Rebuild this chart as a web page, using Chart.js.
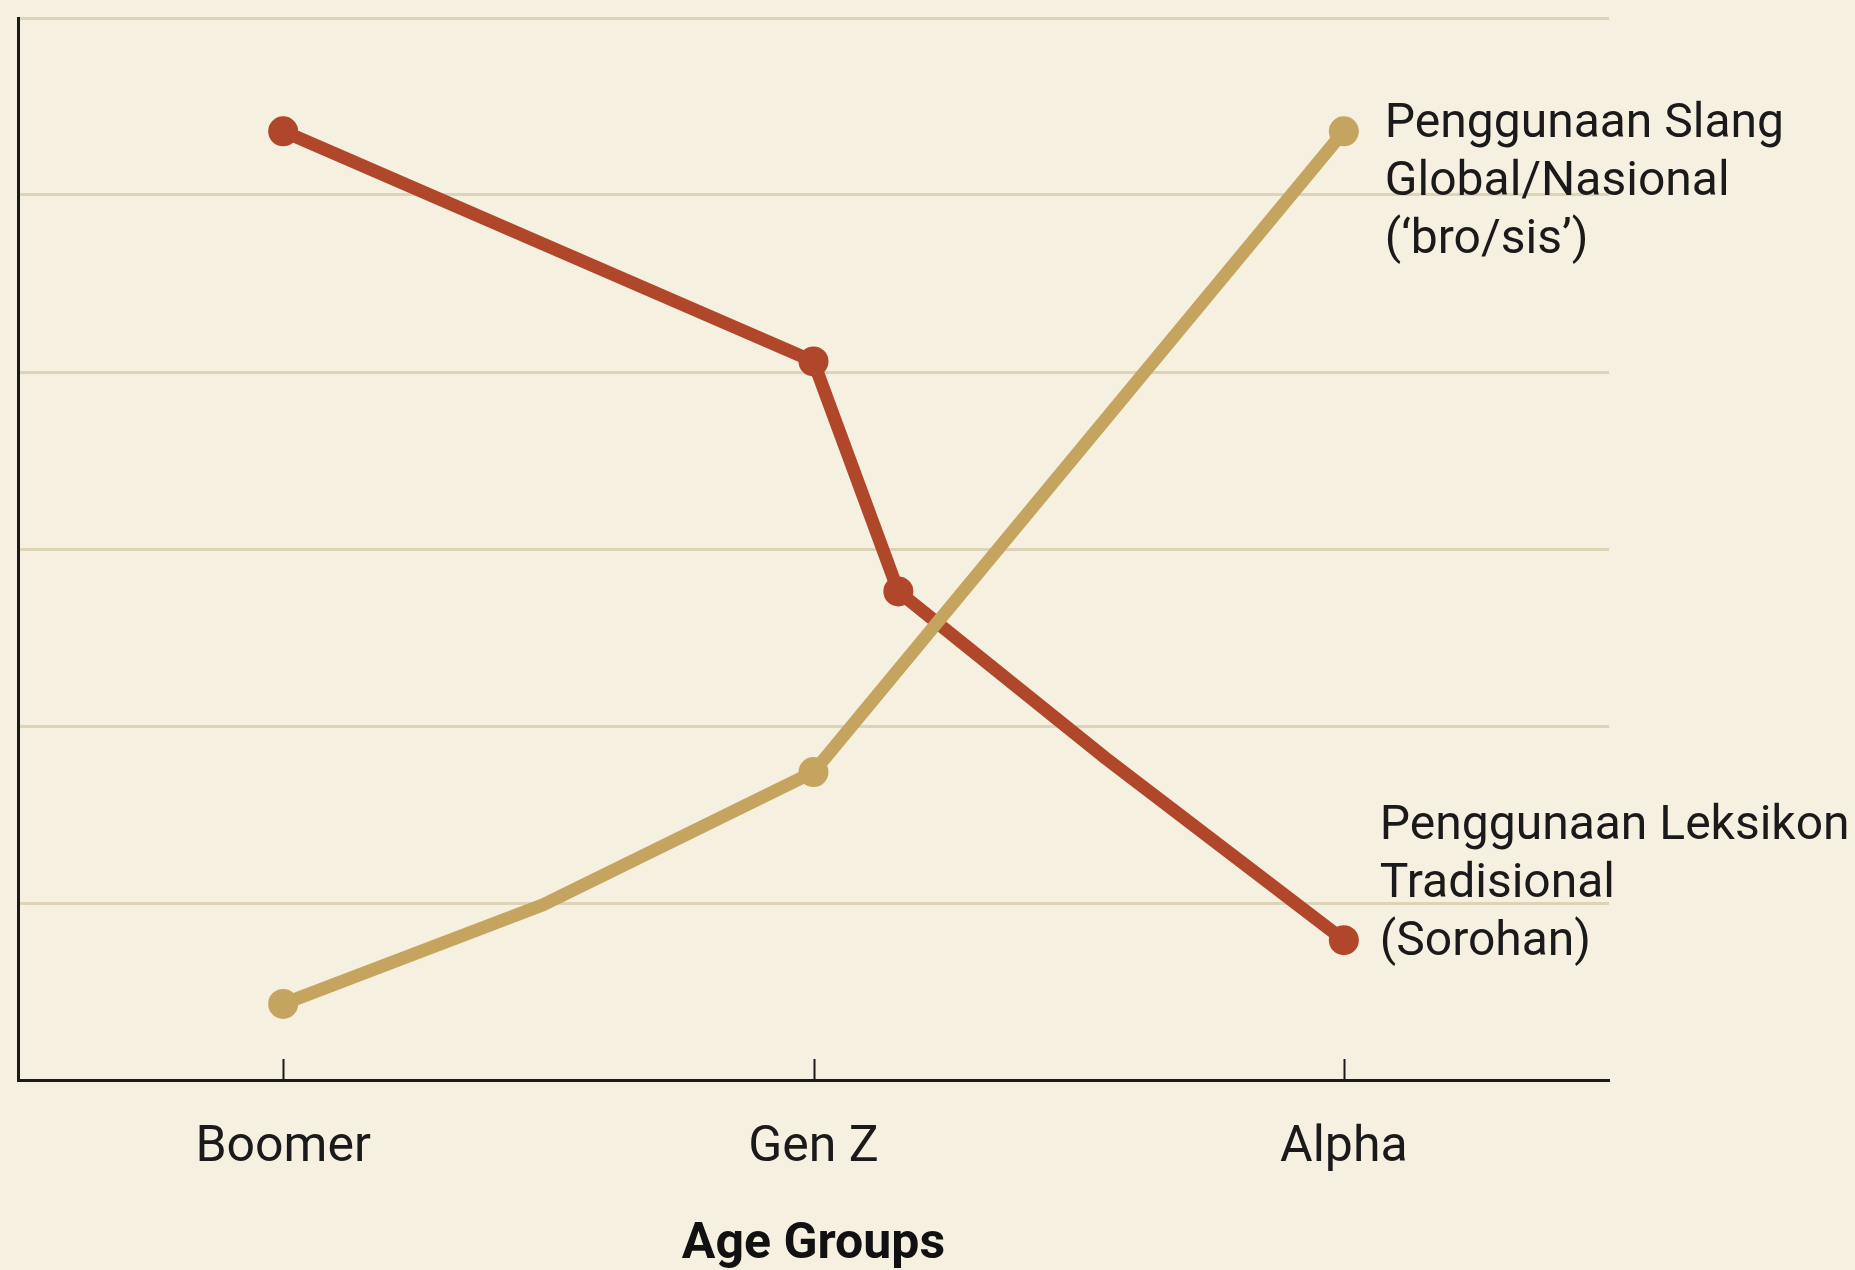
<!DOCTYPE html>
<html>
<head>
<meta charset="utf-8">
<script src="https://cdn.jsdelivr.net/npm/chart.js@4/dist/chart.umd.min.js"></script>
<style>
  html, body { margin: 0; padding: 0; background: #f6f0e0; }
  #wrap { width: 1855px; height: 1270px; position: relative; }
</style>
</head>
<body>
<div id="wrap"><canvas id="chart"></canvas></div>
<script>
// age groups on the x axis (positions 0, 1, 2)
const categories = ["Boomer", "Gen Z", "Alpha"];

// global/national slang use
const slangX = [0, 0.49, 1, 2];
const slangY = [4.3, 9.9, 17.4, 53.6];
const slangLabel = ["Penggunaan Slang", "Global/Nasional", "(\u2018bro/sis\u2019)"];

// traditional lexicon use
const tradX = [0, 1, 1.16, 1.55, 2];
const tradY = [53.6, 40.6, 27.6, 18.2, 7.9];
const tradLabel = ["Penggunaan Leksikon", "Tradisional", "(Sorohan)"];

const yTicks = [0, 10, 20, 30, 40, 50, 60];

const toPoints = (xs, ys) => xs.map((x, i) => ({ x: x, y: ys[i] }));

// small upward tick marks on the x axis
const tickMarks = {
  id: "tickMarks",
  beforeDatasetsDraw(chart) {
    const { ctx, scales: { x }, chartArea } = chart;
    ctx.save();
    ctx.strokeStyle = "#1a1a1a";
    ctx.lineWidth = 2;
    categories.forEach((c, i) => {
      const px = Math.round(x.getPixelForValue(i)) + 0.5;
      ctx.beginPath();
      ctx.moveTo(px, chartArea.bottom);
      ctx.lineTo(px, chartArea.bottom - 21);
      ctx.stroke();
    });
    ctx.restore();
  }
};

// series names written next to the last point of each line
const endLabels = {
  id: "endLabels",
  afterDatasetsDraw(chart) {
    const { ctx } = chart;
    ctx.save();
    ctx.font = "48px Roboto";
    ctx.fillStyle = "#1a1a1a";
    ctx.textAlign = "left";
    ctx.textBaseline = "middle";
    chart.data.datasets.forEach((ds, i) => {
      const meta = chart.getDatasetMeta(i);
      const last = meta.data[meta.data.length - 1];
      ds.endLabel.forEach((line, j) => {
        ctx.fillText(line, last.x + ds.labelDx, last.y + ds.labelDy + j * 58);
      });
    });
    ctx.restore();
  }
};

new Chart(document.getElementById("chart"), {
  type: "line",
  data: {
    datasets: [
      {
        label: slangLabel.join(" "),
        data: toPoints(slangX, slangY),
        borderColor: "#c5a45f",
        backgroundColor: "#c5a45f",
        borderWidth: 13,
        pointRadius: [15, 0, 15, 15],
        pointBorderWidth: 0,
        tension: 0,
        endLabel: slangLabel,
        labelDx: 41,
        labelDy: -6
      },
      {
        label: tradLabel.join(" "),
        data: toPoints(tradX, tradY),
        borderColor: "#b0472b",
        backgroundColor: "#b0472b",
        borderWidth: 13,
        pointRadius: [15, 15, 15, 0, 15],
        pointBorderWidth: 0,
        tension: 0,
        endLabel: tradLabel,
        labelDx: 36,
        labelDy: -113
      }
    ]
  },
  options: {
    responsive: true,
    maintainAspectRatio: false,
    animation: false,
    layout: { padding: { left: 18, right: 246, top: 18, bottom: 0 } },
    plugins: {
      legend: { display: false },
      tooltip: { enabled: false }
    },
    scales: {
      x: {
        type: "linear",
        min: -0.5,
        max: 2.5,
        afterBuildTicks: (s) => { s.ticks = categories.map((c, i) => ({ value: i })); },
        afterFit: (s) => { s.height = 190; },
        ticks: {
          callback: (v) => categories[v],
          font: { family: "Roboto", size: 50 },
          color: "#1a1a1a",
          padding: 38,
          maxRotation: 0
        },
        grid: { display: false, drawTicks: false },
        border: { display: true, color: "#1a1a1a", width: 3 },
        title: {
          display: true,
          text: "Age Groups",
          font: { family: "Roboto", size: 50, weight: "bold", lineHeight: 1.0 },
          color: "#111",
          padding: { top: 0, bottom: 0 }
        }
      },
      y: {
        min: 0,
        max: 60,
        afterBuildTicks: (s) => { s.ticks = yTicks.map((v) => ({ value: v })); },
        ticks: { display: false },
        grid: { color: "#ddd4b8", lineWidth: 3, drawTicks: false },
        border: { display: true, color: "#1a1a1a", width: 3 }
      }
    }
  },
  plugins: [tickMarks, endLabels]
});
</script>
</body>
</html>
